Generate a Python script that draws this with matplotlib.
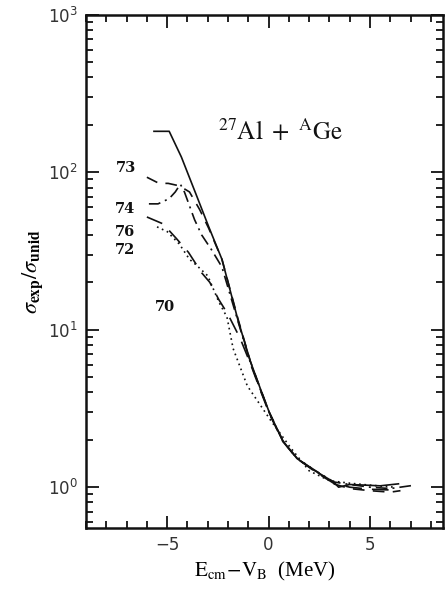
import matplotlib
matplotlib.use("Agg")
import matplotlib.pyplot as plt
from matplotlib.ticker import LogLocator, MultipleLocator

plt.rcParams['mathtext.fontset'] = 'stix'

# curves: E_cm - V_B (MeV) vs sigma_exp / sigma_unid
x70 = [-5.65, -4.9, -4.3, -3.55, -2.95, -2.3, -1.5, -0.9, -0.4, 0.05, 0.7, 1.4, 2.2, 3.2, 3.45, 4.0, 4.8, 5.5, 6.4]
y70 = [182, 182, 125, 71, 45, 28, 11.4, 6.3, 4.2, 2.95, 1.97, 1.52, 1.29, 1.08, 1.0, 1.04, 1.03, 1.02, 1.05]

x73 = [-6.0, -5.4, -4.95, -4.4, -3.9, -3.4, -2.95, -2.3, -1.5, -0.9, -0.4, 0.05, 0.7, 1.4, 2.2, 3.2, 4.0, 5.0, 6.0, 6.5]
y73 = [93, 85, 85, 82, 75, 58, 44, 28, 11.6, 6.3, 4.2, 2.95, 1.97, 1.52, 1.30, 1.05, 0.98, 0.95, 0.93, 0.95]

x74 = [-5.9, -5.45, -4.9, -4.6, -4.35, -4.15, -3.65, -3.3, -2.8, -2.3, -1.5, -0.9, -0.4, 0.05, 0.7, 1.4, 2.2, 3.2, 4.0, 5.0, 6.0, 7.2]
y74 = [63, 63, 68, 75, 84, 75, 50, 40, 32, 25, 11.2, 6.2, 4.15, 2.95, 1.97, 1.53, 1.30, 1.08, 1.04, 1.0, 0.98, 1.03]

x76 = [-6.0, -5.2, -4.55, -3.95, -3.3, -2.9, -2.45, -2.0, -1.4, -0.9, -0.4, 0.05, 0.7, 1.4, 2.2, 3.2, 4.0, 5.0, 6.0]
y76 = [52, 47, 38, 31, 23, 20, 15.5, 12.5, 8.8, 6.1, 4.1, 2.9, 1.95, 1.52, 1.28, 1.06, 1.0, 0.97, 0.96]

x72 = [-5.5, -5.0, -4.4, -3.9, -3.6, -3.0, -2.45, -2.05, -1.75, -1.05, 0.1, 1.1, 2.0, 3.0, 4.0, 5.0, 6.2]
y72 = [45, 42, 35, 28, 26, 22, 15, 12, 7.6, 4.4, 2.66, 1.77, 1.27, 1.1, 1.06, 1.03, 1.0]

labels = ['73', '74', '76', '72', '70']
label_x = [-7.55, -7.6, -7.6, -7.6, -5.6]
label_y = [107, 58.5, 42, 32, 13.9]

fig = plt.figure(figsize=(4.48, 5.92), dpi=100)
ax = fig.add_axes([0.192, 0.108, 0.797, 0.867])

c = '#111111'
ax.plot(x70, y70, color=c, lw=1.2, linestyle='-')
ax.plot(x73, y73, color=c, lw=1.2, linestyle=(0, (7, 5)))
ax.plot(x74, y74, color=c, lw=1.2, linestyle=(0, (7, 3, 1.2, 3)))
ax.plot(x76, y76, color=c, lw=1.2, linestyle=(0, (10, 6)))
ax.plot(x72, y72, color=c, lw=1.2, linestyle=(0, (1, 2.2)))

for t, lx, ly in zip(labels, label_x, label_y):
    ax.text(lx, ly, t, fontsize=10.5, fontweight='bold', family='DejaVu Serif',
            ha='left', va='center', color=c)

ax.text(0.6, 182, r'$^{27}\mathrm{Al}\ +\ ^{\mathrm{A}}\mathrm{Ge}$', fontsize=18,
        ha='center', va='center', color=c)

ax.set_yscale('log')
ax.set_xlim(-9.0, 8.6)
ax.set_ylim(0.55, 1000)

ax.xaxis.set_major_locator(MultipleLocator(5))
ax.xaxis.set_minor_locator(MultipleLocator(1))
ax.yaxis.set_major_locator(LogLocator(base=10, numticks=10))
ax.yaxis.set_minor_locator(LogLocator(base=10, subs=range(2, 10), numticks=20))

ax.tick_params(which='both', direction='in', top=True, right=True, color=c, width=1.3)
ax.tick_params(which='major', length=9, labelsize=12, pad=6, labelcolor='#333333')
ax.tick_params(which='minor', length=5)
for s in ax.spines.values():
    s.set_linewidth(1.8)
    s.set_color(c)

ax.set_xlabel(r'$\mathrm{E_{cm}\!-\!V_B}$  (MeV)', fontsize=15, family='Liberation Serif', labelpad=4)
ax.set_ylabel(r'$\sigma_{\mathbf{exp}}/\sigma_{\mathbf{unid}}$', fontsize=16, labelpad=2)

fig.savefig('out.png', dpi=100)
